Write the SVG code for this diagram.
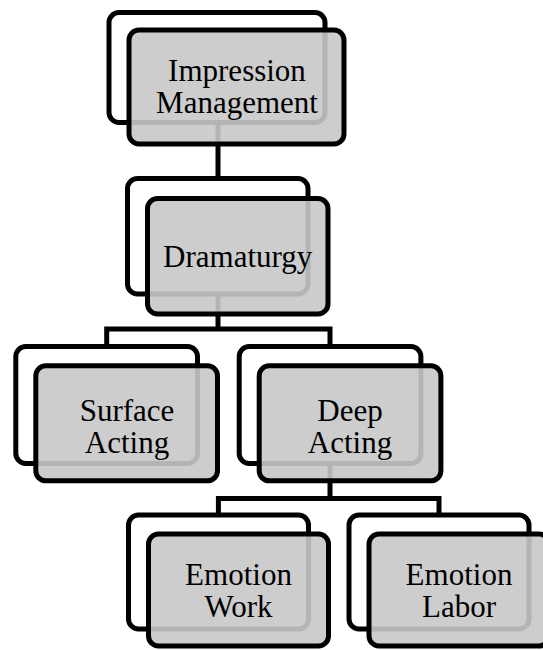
<svg xmlns="http://www.w3.org/2000/svg" width="543" height="650" viewBox="0 0 543 650">
<style>
.bk{fill:#ffffff;stroke:#000;stroke-width:5}
.fr{fill:#c8c8c8;fill-opacity:0.9;stroke:#000;stroke-width:5}
.cn{fill:none;stroke:#000;stroke-width:5}
.t{font-family:"Liberation Serif","Times New Roman",serif;font-size:31px;fill:#000;text-anchor:middle}
</style>
<rect width="543" height="650" fill="#fff"/>
<g id="n1-back"><rect class="bk" x="109" y="12.5" width="216" height="110" rx="10"/></g>
<g id="n2-back"><rect class="bk" x="127.5" y="178.5" width="180.5" height="115.5" rx="10"/></g>
<g id="n3-back"><rect class="bk" x="15.8" y="346.5" width="181.7" height="117" rx="10"/></g>
<g id="n4-back"><rect class="bk" x="239.2" y="346.5" width="181.7" height="117" rx="10"/></g>
<g id="n5-back"><rect class="bk" x="128.5" y="515" width="180" height="114" rx="10"/></g>
<g id="n6-back"><rect class="bk" x="349" y="515" width="180" height="114" rx="10"/></g>
<g id="connectors">
<path class="cn" d="M218 122.5V178.5"/>
<path class="cn" d="M218 294V329"/>
<path class="cn" d="M106.7 346.5V329H330V346.5"/>
<path class="cn" d="M330 463.5V498.5"/>
<path class="cn" d="M218.4 515V498.5H439V515"/>
</g>
<g id="impression-management">
<rect class="fr" x="129" y="30" width="215" height="114" rx="10"/>
<text class="t" x="237" y="81"><tspan x="237">Impression</tspan><tspan x="237" dy="32">Management</tspan></text>
</g>
<g id="dramaturgy">
<rect class="fr" x="147.5" y="198.5" width="180.5" height="115.5" rx="10"/>
<text class="t" x="237.7" y="267">Dramaturgy</text>
</g>
<g id="surface-acting">
<rect class="fr" x="35.8" y="365.8" width="181.7" height="115" rx="10"/>
<text class="t" x="127" y="421"><tspan x="127">Surface</tspan><tspan x="127" dy="32">Acting</tspan></text>
</g>
<g id="deep-acting">
<rect class="fr" x="259.2" y="365.8" width="181.7" height="115" rx="10"/>
<text class="t" x="350" y="421"><tspan x="350">Deep</tspan><tspan x="350" dy="32">Acting</tspan></text>
</g>
<g id="emotion-work">
<rect class="fr" x="148.5" y="534" width="180" height="112" rx="10"/>
<text class="t" x="238.5" y="585"><tspan x="238.5">Emotion</tspan><tspan x="238.5" dy="32">Work</tspan></text>
</g>
<g id="emotion-labor">
<rect class="fr" x="369" y="534" width="180" height="112" rx="10"/>
<text class="t" x="459" y="585"><tspan x="459">Emotion</tspan><tspan x="459" dy="32">Labor</tspan></text>
</g>
</svg>
